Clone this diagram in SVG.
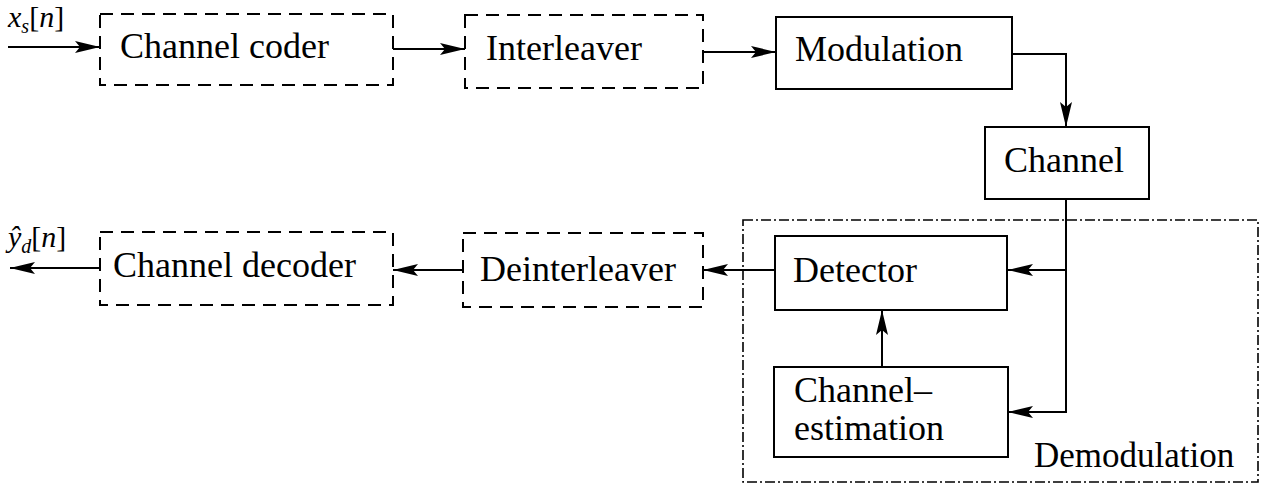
<svg xmlns="http://www.w3.org/2000/svg" width="1270" height="486" viewBox="0 0 1270 486">
<defs>
<marker id="ah" viewBox="0 0 25 12" refX="25" refY="6" markerWidth="25" markerHeight="12" markerUnits="userSpaceOnUse" orient="auto">
<path d="M0,0 L25,6 L0,12 L5,6 Z" fill="#000"/>
</marker>
</defs>
<style>
.solid{fill:#fff;stroke:#000;stroke-width:2}
.dash{fill:#fff;stroke:#000;stroke-width:2;stroke-dasharray:13 8}
.dashdot{fill:none;stroke:#000;stroke-width:1.6;stroke-dasharray:10 3 2 3}
.conn{fill:none;stroke:#000;stroke-width:2;marker-end:url(#ah)}
</style>
<rect id="demod-frame" class="dashdot" x="743" y="220" width="515" height="262"/>
<g id="connectors">
<path class="conn" d="M8,47 H100"/>
<path class="conn" d="M393,49 H465"/>
<path class="conn" d="M703,52 H776"/>
<path class="conn" d="M1012,54 H1066 V127"/>
<path class="conn" d="M1066,199 V270 H1008"/>
<path class="conn" d="M1066,270 V412 H1008"/>
<path class="conn" d="M882,367 V310"/>
<path class="conn" d="M775,270 H703"/>
<path class="conn" d="M463,270 H393"/>
<path class="conn" d="M100,268 H10"/>
</g>
<g font-family="'Liberation Serif', 'Times New Roman', serif" font-size="36" fill="#000">
<g id="label-xs"><text x="8" y="27" font-size="30" font-style="italic">x<tspan font-size="20" dy="6">s</tspan><tspan dy="-6" font-style="normal">[</tspan>n<tspan font-style="normal">]</tspan></text></g>
<g id="label-yd"><text x="8" y="247" font-size="30" font-style="italic">ŷ<tspan font-size="20" dy="6">d</tspan><tspan dy="-6" font-style="normal">[</tspan>n<tspan font-style="normal">]</tspan></text></g>
<g id="channel-coder"><rect class="dash" x="100" y="14" width="293" height="71"/><text x="120" y="58">Channel coder</text></g>
<g id="interleaver"><rect class="dash" x="465" y="15" width="238" height="73"/><text x="486" y="60">Interleaver</text></g>
<g id="modulation"><rect class="solid" x="776" y="17" width="236" height="72"/><text x="795" y="61">Modulation</text></g>
<g id="channel"><rect class="solid" x="985" y="127" width="164" height="72"/><text x="1004" y="172">Channel</text></g>
<g id="detector"><rect class="solid" x="775" y="236" width="232" height="74"/><text x="793" y="282">Detector</text></g>
<g id="channel-estimation"><rect class="solid" x="774" y="367" width="234" height="90"/><text x="794" y="402">Channel–</text><text x="794" y="440">estimation</text></g>
<g id="deinterleaver"><rect class="dash" x="463" y="233" width="240" height="74"/><text x="480" y="281">Deinterleaver</text></g>
<g id="channel-decoder"><rect class="dash" x="100" y="232" width="293" height="73"/><text x="113" y="277">Channel decoder</text></g>
<g id="demodulation-label"><text x="1034" y="467" font-size="35">Demodulation</text></g>
</g>
</svg>
